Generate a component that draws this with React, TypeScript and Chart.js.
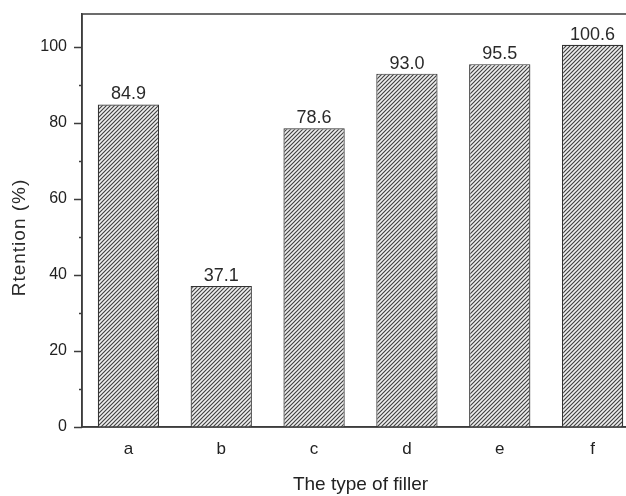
import React, { useEffect, useRef } from 'react';
import { Chart, registerables } from 'chart.js';
Chart.register(...registerables);

const categories = ['a', 'b', 'c', 'd', 'e', 'f'];
const retention = [84.9, 37.1, 78.6, 93.0, 95.5, 100.6];
const valueLabels = ['84.9', '37.1', '78.6', '93.0', '95.5', '100.6'];
const yMajorTicks = [0, 20, 40, 60, 80, 100];
const yMinorTicks = [10, 30, 50, 70, 90];
const yMin = 0;
const yMax = 108.7;
const xTitle = 'The type of filler';
const yTitle = 'Rtention (%)';

const FONT = '"Liberation Sans", Arial, Helvetica, sans-serif';

function makePattern(): CanvasPattern | string {
  const c = document.createElement('canvas');
  c.width = 4;
  c.height = 4;
  const g = c.getContext('2d');
  if (!g) return '#999';
  g.fillStyle = '#efefef';
  g.fillRect(0, 0, 4, 4);
  g.strokeStyle = '#404040';
  g.lineWidth = 1.15;
  g.beginPath();
  g.moveTo(-1, 5); g.lineTo(5, -1);
  g.moveTo(-1, 1); g.lineTo(1, -1);
  g.moveTo(3, 5); g.lineTo(5, 3);
  g.stroke();
  return g.createPattern(c, 'repeat') || '#999';
}

const decor = {
  id: 'decor',
  afterDraw(chart: any) {
    const { ctx, chartArea: a, scales } = chart;
    const y = scales.y;
    ctx.save();
    ctx.strokeStyle = '#3c3c3c';
    ctx.lineWidth = 1.5;
    ctx.strokeRect(a.left, a.top, a.right - a.left, a.bottom - a.top);
    ctx.lineWidth = 1.3;
    ctx.beginPath();
    for (const v of yMajorTicks) {
      const p = Math.round(y.getPixelForValue(v)) + 0.5;
      ctx.moveTo(a.left - 8, p);
      ctx.lineTo(a.left, p);
    }
    for (const v of yMinorTicks) {
      const p = Math.round(y.getPixelForValue(v)) + 0.5;
      ctx.moveTo(a.left - 3, p);
      ctx.lineTo(a.left, p);
    }
    ctx.stroke();

    const meta = chart.getDatasetMeta(0);
    ctx.font = `18px ${FONT}`;
    ctx.fillStyle = '#2a2a2a';
    ctx.textAlign = 'center';
    ctx.textBaseline = 'alphabetic';
    meta.data.forEach((bar: any, i: number) => {
      ctx.fillText(valueLabels[i], bar.x, bar.y - 5);
    });

    ctx.translate(a.left - 62, (a.top + a.bottom) / 2 + 17);
    ctx.rotate(-Math.PI / 2);
    ctx.font = `19px ${FONT}`;
    (ctx as any).letterSpacing = '1px';
    ctx.textBaseline = 'middle';
    ctx.fillText(yTitle, 0, 0);
    ctx.restore();
  },
};

export default function App() {
  const ref = useRef<HTMLCanvasElement>(null);
  useEffect(() => {
    if (!ref.current) return;
    const chart = new Chart(ref.current, {
      type: 'bar',
      data: {
        labels: categories,
        datasets: [
          {
            data: retention,
            backgroundColor: makePattern() as any,
            borderColor: '#333333',
            borderWidth: 1.2,
            barPercentage: 0.66,
            categoryPercentage: 1,
          },
        ],
      },
      options: {
        responsive: false,
        animation: false,
        layout: { padding: { top: 14, right: 6, left: 0, bottom: 0 } },
        plugins: { legend: { display: false }, tooltip: { enabled: false } },
        scales: {
          x: {
            type: 'category',
            offset: true,
            grid: { display: false, drawTicks: false },
            border: { display: true, color: '#3c3c3c', width: 1.5 },
            ticks: { font: { size: 17, family: FONT }, color: '#222', padding: 12 },
            title: {
              display: true,
              text: xTitle,
              font: { size: 19, family: FONT },
              color: '#222',
              padding: { top: 0, bottom: 0 },
            },
            afterFit: (s: any) => { s.height = 69; s.paddingLeft = 0; s.paddingRight = 0; },
          },
          y: {
            type: 'linear',
            min: yMin,
            max: yMax,
            grid: { display: false, drawTicks: false },
            border: { display: true, color: '#3c3c3c', width: 1.5 },
            ticks: {
              stepSize: 10,
              includeBounds: false,
              font: { size: 16, family: FONT },
              color: '#222',
              padding: 15,
              callback: (v: any) => (yMajorTicks.includes(Number(v)) ? String(v) : ''),
            },
            afterFit: (s: any) => { s.width = 82; s.paddingTop = 0; s.paddingBottom = 0; },
          },
        },
      },
      plugins: [decor],
    });
    return () => chart.destroy();
  }, []);
  return (
    <div style={{ position: 'fixed', left: 0, top: 0, width: 626, height: 496, overflow: 'hidden', background: '#fff' }}>
      <canvas ref={ref} width={645} height={496} style={{ display: 'block' }} />
    </div>
  );
}
